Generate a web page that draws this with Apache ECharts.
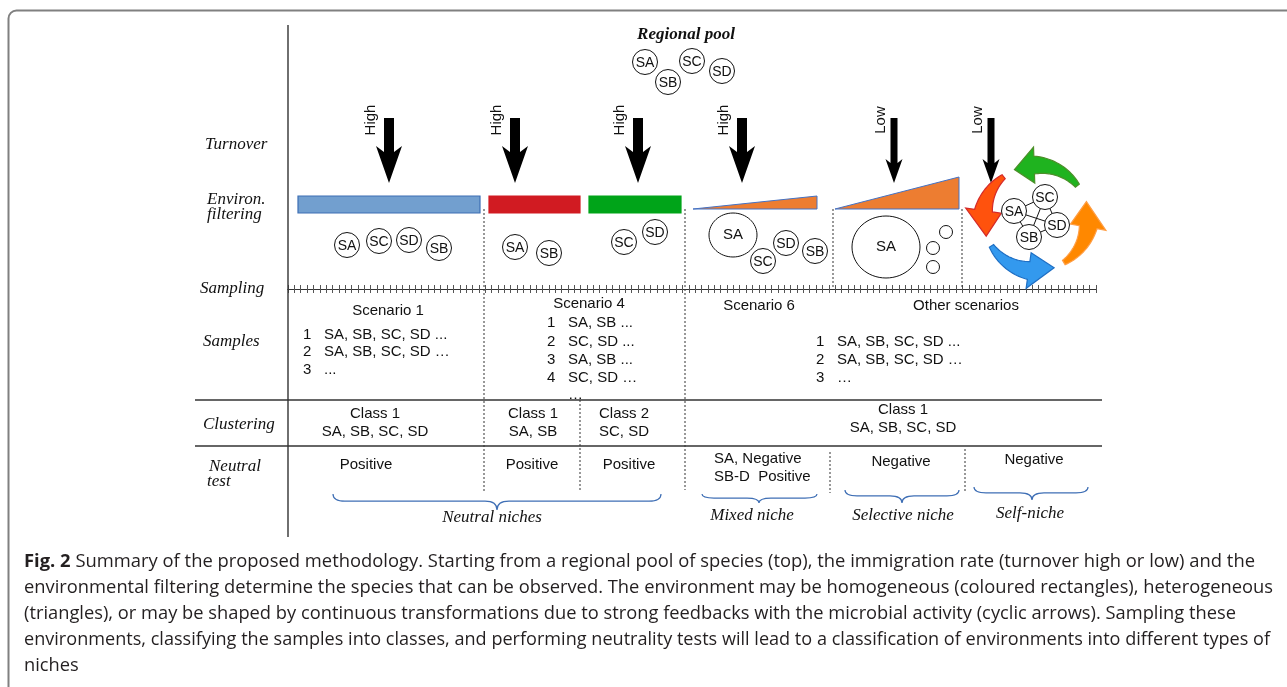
<!DOCTYPE html>
<html>
<head>
<meta charset="UTF-8">
<title>Fig. 2</title>
<script src="https://cdn.jsdelivr.net/npm/echarts@6/dist/echarts.min.js"></script>
<style>
    body { margin: 0; padding: 0; overflow: hidden; background: #fff; }
    #chart { width: 1287px; height: 687px; }
</style>
</head>
<body>
<div id="chart"></div>
<script>
    // everything is placed in diagram units: x 0..1287, y 0..687 (y grows downwards)
    const rowLabels = [[205, 145, 'Turnover'], [207, 200, 'Environ.'], [207, 215, 'filtering'], [200, 289, 'Sampling'],
        [203, 342, 'Samples'], [203, 425, 'Clustering'], [209, 467, 'Neutral'], [207, 482, 'test']];

    const poolSpecies = [[645, 62, 'SA'], [692, 61, 'SC'], [668, 82, 'SB'], [722, 71, 'SD']];

    const turnover = ['High', 'High', 'High', 'High', 'Low', 'Low'];
    const turnoverX = [389, 515, 638, 742, 894, 991];

    const envBars = [[298, 480, 'blue'], [489, 580, 'red'], [589, 681, 'green']];
    const envTriangles = [[693, 817, 209, 196], [835, 959, 209, 177]];

    const filteredSpecies = [[347, 245, 'SA'], [379, 241, 'SC'], [409, 240, 'SD'], [439, 248, 'SB'],
        [515, 247, 'SA'], [549, 253, 'SB'], [624, 242, 'SC'], [655, 232, 'SD'],
        [786, 243, 'SD'], [763, 261, 'SC'], [815, 251, 'SB']];
    const dominantSpecies = [[733, 235, 24, 22, 'SA'], [886, 247, 34, 31, 'SA']];
    const rareSpecies = [[946, 232], [933, 248], [933, 267]];

    const cycleSpecies = [[1045, 197, 'SC'], [1014, 211, 'SA'], [1057, 225, 'SD'], [1029, 237, 'SB']];
    const cycleLinks = [['SA', 'SC'], ['SA', 'SD'], ['SA', 'SB'], ['SB', 'SC'], ['SB', 'SD'], ['SC', 'SD']];
    // start angle, end of body, tip angle (degrees, counter-clockwise)
    const cycleArrows = [[38, 92, 114, 'green'], [128, 172, 200, 'red'], [212, 262, 290, 'blue'], [302, 350, 378, 'orange']];

    const scenarios = [[388, 311, 'Scenario 1'], [589, 304, 'Scenario 4'], [759, 306, 'Scenario 6'], [966, 306, 'Other scenarios']];
    const sampleRows = [
        [303, 335, '1', 'SA, SB, SC, SD ...'], [303, 352, '2', 'SA, SB, SC, SD \u2026'], [303, 370, '3', '...'],
        [547, 323, '1', 'SA, SB ...'], [547, 342, '2', 'SC, SD ...'], [547, 360, '3', 'SA, SB ...'],
        [547, 378, '4', 'SC, SD \u2026'], [547, 395, '', '\u2026'],
        [816, 342, '1', 'SA, SB, SC, SD ...'], [816, 360, '2', 'SA, SB, SC, SD \u2026'], [816, 378, '3', '\u2026']
    ];
    const classes = [[375, 414, 'Class 1', 'SA, SB, SC, SD'], [533, 414, 'Class 1', 'SA, SB'],
        [624, 414, 'Class 2', 'SC, SD'], [903, 410, 'Class 1', 'SA, SB, SC, SD']];
    const tests = [[366, 465, 'Positive'], [532, 465, 'Positive'], [629, 465, 'Positive'],
        [901, 462, 'Negative'], [1034, 460, 'Negative']];
    const mixedTest = [[714, 459, 'SA, Negative'], [714, 477, 'SB-D  Positive']];

    // x1, x2, top, tip x, tip y
    const braces = [[333, 661, 494, 497, 510], [702, 817, 494, 759, 503], [845, 959, 490, 902, 503], [974, 1088, 487, 1032, 500]];
    const niches = [[492, 518, 'Neutral niches'], [752, 516, 'Mixed niche'], [903, 516, 'Selective niche'], [1030, 514, 'Self-niche']];

    const rules = [[288, 25, 288, 537], [195, 400, 1102, 400], [195, 446, 1102, 446]];
    const dottedRules = [[484, 209, 491], [580, 400, 490], [685, 209, 490], [833, 209, 287], [962, 209, 287], [830, 452, 493], [965, 449, 492]];

    const captionLines = [
        'Summary of the proposed methodology. Starting from a regional pool of species (top), the immigration rate (turnover high or low) and the',
        'environmental filtering determine the species that can be observed. The environment may be homogeneous (coloured rectangles), heterogeneous',
        '(triangles), or may be shaped by continuous transformations due to strong feedbacks with the microbial activity (cyclic arrows). Sampling these',
        'environments, classifying the samples into classes, and performing neutrality tests will lead to a classification of environments into different types of',
        'niches'
    ];
    const captionY = [562, 588, 614, 640, 666];
    const captionRight = [1255, 1273, 1236, 1270, 0];

    // ---- styles ----
    const SERIF_IT = 'italic 17px "Liberation Serif"';
    const SANS = '15px "Liberation Sans"';
    const SP_FONT = '14px "Liberation Sans"';
    const CAP_FONT = '18px "Open Sans"';
    const CAP_BOLD = 'bold 18px "Open Sans"';
    const CAP_LEFT = 24;
    const R_SP = 12.5;
    const barColors = {blue: ['#729fcf', '#3c6eb4'], red: ['#d11b22', '#d11b22'], green: ['#00a419', '#00a419']};
    const cycleColors = {green: ['#1fb31f', '#4d8f2a'], red: ['#ff520d', '#d42a2a'], blue: ['#3399ee', '#1f6fc4'], orange: ['#ff8800', '#ff9e45']};
    const INK = '#111';

    const measureCtx = document.createElement('canvas').getContext('2d');
    function textWidth(t, font) {
        measureCtx.font = font;
        return measureCtx.measureText(t).width;
    }

    function layer(arr, draw) {
        return {
            type: 'custom', coordinateSystem: 'cartesian2d', xAxisIndex: 0, yAxisIndex: 0,
            silent: true, clip: false, animation: false,
            data: arr.map(() => [0, 0]),
            renderItem: (params, api) => draw(arr[params.dataIndex], api)
        };
    }

    function txt(api, x, y, text, font, align, extra) {
        const c = api.coord([x, y]);
        return Object.assign({
            type: 'text', x: c[0], y: c[1],
            style: {text: text, font: font, fill: INK, align: align || 'left', verticalAlign: 'middle'}
        }, extra || {});
    }

    function species(api, x, y, name) {
        const c = api.coord([x, y]);
        return {
            type: 'group', children: [
                {type: 'circle', shape: {cx: c[0], cy: c[1], r: R_SP}, style: {fill: '#fff', stroke: INK, lineWidth: 1}},
                {type: 'text', x: c[0], y: c[1] + 1, style: {text: name, font: SP_FONT, fill: INK, align: 'center', verticalAlign: 'middle'}}
            ]
        };
    }

    function turnoverArrow(i, api) {
        const x = turnoverX[i];
        const high = turnover[i] === 'High';
        const s = high ? 5 : 3.5, h = high ? 13 : 8.5, y0 = high ? 152 : 163, yc = high ? 146 : 159;
        const pts = [[x - h, yc], [x - s, y0], [x - s, 118], [x + s, 118], [x + s, y0], [x + h, yc], [x, 183]]
            .map(p => api.coord(p));
        return {
            type: 'group', children: [
                {type: 'polygon', shape: {points: pts}, style: {fill: '#000'}},
                txt(api, x - (high ? 18 : 13.5), 120, turnover[i], SANS, 'center', {rotation: Math.PI / 2})
            ]
        };
    }

    function cycleArrow(d, api) {
        const C = [1036, 218];
        const pt = (r, a) => api.coord([C[0] + r * Math.cos(a * Math.PI / 180), C[1] - r * Math.sin(a * Math.PI / 180)]);
        const outer = [], inner = [];
        const n = 24;
        for (let k = 0; k <= n; k++) {
            const a = d[0] + (d[1] - d[0]) * k / n;
            const t = k / n;
            outer.push(pt(55 + 7 * t, a));
            inner.push(pt(50 - 6 * t, a));
        }
        const pts = outer.concat([pt(71, d[1]), pt(53, d[2]), pt(35, d[1])], inner.reverse());
        const col = cycleColors[d[3]];
        return {type: 'polygon', shape: {points: pts}, style: {fill: col[0], stroke: col[1], lineWidth: 1.2}};
    }

    function brace(d, api) {
        const [x1, x2, y0, tx, ty] = d;
        const ym = y0 + (ty - y0) * 0.45;
        const p = (x, y) => api.coord([x, y]).join(' ');
        const path = 'M' + p(x1, y0) + ' Q' + p(x1, ym) + ' ' + p(x1 + 12, ym) +
            ' L' + p(tx - 12, ym) + ' Q' + p(tx, ym) + ' ' + p(tx, ty) +
            ' Q' + p(tx, ym) + ' ' + p(tx + 12, ym) +
            ' L' + p(x2 - 12, ym) + ' Q' + p(x2, ym) + ' ' + p(x2, y0);
        return {type: 'path', shape: {pathData: path}, style: {fill: 'none', stroke: '#3f6fb5', lineWidth: 1.2}};
    }

    const capScales = captionLines.map((t, i) => {
        if (!captionRight[i]) return null;
        let w = textWidth(t, CAP_FONT);
        if (i === 0) w += textWidth('Fig. 2 ', CAP_BOLD);
        return (captionRight[i] - CAP_LEFT) / w;
    });
    const capMean = capScales.filter(s => s).reduce((a, b) => a + b, 0) / capScales.filter(s => s).length;

    function captionLine(i, api) {
        const s = capScales[i] || capMean;
        const c = api.coord([CAP_LEFT, captionY[i]]);
        const text = i === 0 ? '{b|Fig. 2} ' + captionLines[i] : captionLines[i];
        return {
            type: 'text', x: c[0], y: c[1], scaleX: s,
            style: {
                text: text, font: CAP_FONT, fill: '#231f20', align: 'left', verticalAlign: 'middle',
                rich: {b: {font: CAP_BOLD, fill: '#231f20'}}
            }
        };
    }

    const idx = n => Array.from({length: n}, (_, i) => i);
    const byName = {};
    cycleSpecies.forEach(d => byName[d[2]] = d);

    const chart = echarts.init(document.getElementById('chart'), null, {renderer: 'canvas'});
    const rulerAxis = inside => ({
        gridIndex: 1, type: 'value', min: 0, max: 127, interval: 1, position: 'bottom',
        axisLine: {show: true, lineStyle: {color: '#333', width: 1}},
        axisTick: {show: true, inside: inside, length: 4, lineStyle: {color: '#555', width: 1}},
        axisLabel: {show: false}, splitLine: {show: false}
    });

    chart.setOption({
        animation: false,
        grid: [
            {left: 0, right: 0, top: 0, bottom: 0, outerBoundsMode: 'none'},
            {left: 288, top: 285, width: 808, height: 4, outerBoundsMode: 'none'}
        ],
        xAxis: [
            {gridIndex: 0, type: 'value', min: 0, max: 1287, show: false},
            rulerAxis(false),
            rulerAxis(true)
        ],
        yAxis: [
            {gridIndex: 0, type: 'value', min: 0, max: 687, inverse: true, show: false},
            {gridIndex: 1, type: 'value', min: 0, max: 1, show: false}
        ],
        graphic: [{
            type: 'rect', left: 6, top: 8, silent: true,
            shape: {width: 1300, height: 700, r: 8},
            style: {fill: 'none', stroke: '#808080', lineWidth: 2}
        }],
        series: [
            layer(rules, (d, api) => ({
                type: 'line', shape: {x1: api.coord([d[0], d[1]])[0], y1: api.coord([d[0], d[1]])[1],
                    x2: api.coord([d[2], d[3]])[0], y2: api.coord([d[2], d[3]])[1]},
                style: {stroke: '#333', lineWidth: 1.4}
            })),
            layer(dottedRules, (d, api) => {
                const a = api.coord([d[0], d[1]]), b = api.coord([d[0], d[2]]);
                return {type: 'line', shape: {x1: a[0], y1: a[1], x2: b[0], y2: b[1]},
                    style: {stroke: '#333', lineWidth: 1, lineDash: [2, 2]}};
            }),
            layer(rowLabels, (d, api) => txt(api, d[0], d[1], d[2], SERIF_IT, 'left')),
            layer([[686, 35, 'Regional pool']], (d, api) => txt(api, d[0], d[1], d[2], 'italic bold 17px "Liberation Serif"', 'center')),
            layer(poolSpecies, (d, api) => species(api, d[0], d[1], d[2])),
            layer(idx(turnover.length), (i, api) => turnoverArrow(i, api)),
            layer(envBars, (d, api) => {
                const a = api.coord([d[0], 196]), b = api.coord([d[1], 213]);
                return {type: 'rect', shape: {x: a[0], y: a[1], width: b[0] - a[0], height: b[1] - a[1]},
                    style: {fill: barColors[d[2]][0], stroke: barColors[d[2]][1], lineWidth: 1.2}};
            }),
            layer(envTriangles, (d, api) => ({
                type: 'polygon', shape: {points: [api.coord([d[0], d[2]]), api.coord([d[1], d[3]]), api.coord([d[1], d[2]])]},
                style: {fill: '#ed7d31', stroke: '#4472c4', lineWidth: 1}
            })),
            layer(filteredSpecies, (d, api) => species(api, d[0], d[1], d[2])),
            layer(dominantSpecies, (d, api) => {
                const c = api.coord([d[0], d[1]]);
                return {type: 'group', children: [
                    {type: 'ellipse', shape: {cx: c[0], cy: c[1], rx: d[2], ry: d[3]}, style: {fill: '#fff', stroke: INK, lineWidth: 1}},
                    txt(api, d[0], d[1], d[4], SANS, 'center')
                ]};
            }),
            layer(rareSpecies, (d, api) => {
                const c = api.coord(d);
                return {type: 'circle', shape: {cx: c[0], cy: c[1], r: 6.5}, style: {fill: '#fff', stroke: INK, lineWidth: 1}};
            }),
            layer(cycleArrows, cycleArrow),
            layer(cycleLinks, (d, api) => {
                const a = api.coord(byName[d[0]]), b = api.coord(byName[d[1]]);
                return {type: 'line', shape: {x1: a[0], y1: a[1], x2: b[0], y2: b[1]}, style: {stroke: INK, lineWidth: 1}};
            }),
            layer(cycleSpecies, (d, api) => species(api, d[0], d[1], d[2])),
            layer(scenarios, (d, api) => txt(api, d[0], d[1], d[2], SANS, 'center')),
            layer(sampleRows, (d, api) => ({type: 'group', children: [
                txt(api, d[0], d[1], d[2], SANS, 'left'),
                txt(api, d[0] + 21, d[1], d[3], SANS, 'left')
            ]})),
            layer(classes, (d, api) => ({type: 'group', children: [
                txt(api, d[0], d[1], d[2], SANS, 'center'),
                txt(api, d[0], d[1] + 18, d[3], SANS, 'center')
            ]})),
            layer(tests, (d, api) => txt(api, d[0], d[1], d[2], SANS, 'center')),
            layer(mixedTest, (d, api) => txt(api, d[0], d[1], d[2], SANS, 'left')),
            layer(braces, brace),
            layer(niches, (d, api) => txt(api, d[0], d[1], d[2], SERIF_IT, 'center')),
            layer(idx(captionLines.length), captionLine)
        ]
    });
</script>
</body>
</html>
